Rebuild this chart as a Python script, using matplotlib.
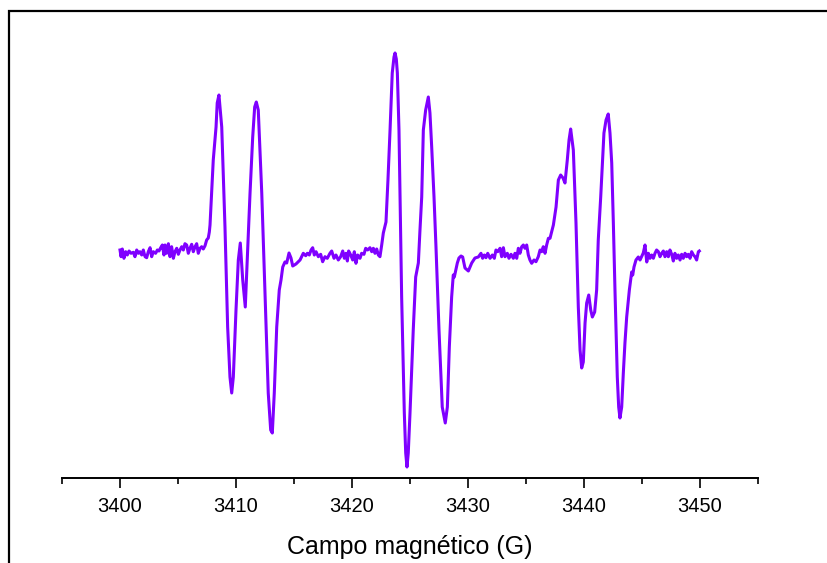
import matplotlib
matplotlib.use("Agg")
import matplotlib.pyplot as plt
import numpy as np
from matplotlib.patches import Rectangle
from matplotlib.ticker import MultipleLocator, FixedLocator

plt.rcParams['font.family'] = ['Liberation Sans', 'DejaVu Sans']

# EPR spectrum (field in G, intensity in a.u.)
noise1_x = [3400.00, 3400.09, 3400.20, 3400.34, 3400.49, 3400.63, 3400.78, 3400.95, 3401.15, 3401.29,
            3401.44, 3401.58, 3401.72, 3401.87, 3402.01, 3402.16, 3402.30, 3402.44, 3402.59, 3402.73,
            3402.87, 3403.07, 3403.22, 3403.36, 3403.51, 3403.65, 3403.79, 3403.88, 3404.02, 3404.17,
            3404.31, 3404.45, 3404.60, 3404.74, 3404.89, 3405.03, 3405.17, 3405.32, 3405.46, 3405.60,
            3405.75, 3405.89, 3406.03, 3406.18, 3406.32, 3406.47, 3406.61, 3406.75, 3406.90, 3407.04,
            3407.18, 3407.33, 3407.47]
noise1_y = [2, -4.7, 3, -6.3, 0.3, -3, 1, -1.3, -0.3, -4.7,
            2, -1.3, 0.3, -3, 2, -4.7, -5.7, 0.3, 4.3, -4.7,
            0.3, -1.3, 2, 1, 4.3, 7, -3, 7, -1.3, 8.3,
            -4.7, 5.3, -6.3, 0.3, 3.7, -2.3, 2, 5.3, 2, 8.3,
            7, -1.3, 3.7, 7.7, 0.3, 5.3, 8.3, -1.3, 3.7, 5.3,
            3, 6.3, 12]

group1_x = [3407.61, 3407.70, 3407.76, 3408.04, 3408.28, 3408.38, 3408.53, 3408.77, 3409.05, 3409.28,
            3409.48, 3409.63, 3409.77, 3410.00, 3410.20, 3410.37, 3410.58, 3410.80, 3410.97, 3411.21,
            3411.44, 3411.61, 3411.75, 3411.92, 3412.22, 3412.50, 3412.78, 3412.99, 3413.13, 3413.30,
            3413.51, 3413.73, 3413.88, 3414.03, 3414.22, 3414.37, 3414.57, 3414.74, 3414.89, 3415.17,
            3415.52]
group1_y = [14, 20, 27, 92, 125, 149, 157, 125, 25, -75,
            -125, -141, -125, -58, -8, 9, -28, -55, -8, 59,
            115, 145, 150, 142, 59, -41, -141, -178, -181, -141,
            -75, -38, -28, -15, -10, -11, -1, -6, -14, -12,
            -8]

noise2_x = [3415.66, 3415.80, 3416.01, 3416.15, 3416.32, 3416.47, 3416.61, 3416.75, 3416.90, 3417.10,
            3417.30, 3417.47, 3417.67, 3417.87, 3418.10, 3418.25, 3418.45, 3418.62, 3418.82, 3419.02,
            3419.20, 3419.34, 3419.48, 3419.60, 3419.71, 3419.89, 3420.06, 3420.20, 3420.34, 3420.49,
            3420.69, 3420.83, 3421.03, 3421.18, 3421.35, 3421.55, 3421.70, 3421.84, 3421.98, 3422.13,
            3422.27, 3422.41, 3422.56]
noise2_y = [-4.7, -1.3, -3.7, -1.3, -3, 2, 4.3, -3, 0.3, -4.7,
            -2.3, -9.7, -4.7, -6.3, -1.3, 1, -6.3, -3, -8, -4.7,
            1, -6.3, -1.3, -9, 1, -3, -8, 0.3, -11.3, -3,
            -6.3, -1.3, -2.3, 3.7, 2, 4.3, 0.3, 3.7, -1.3, 3,
            -3, -4.7, 7]

group2_x = [3422.70, 3422.93, 3423.10, 3423.28, 3423.47, 3423.62, 3423.71, 3423.82, 3423.91, 3424.05,
            3424.16, 3424.28, 3424.51, 3424.63, 3424.74, 3424.85, 3425.00, 3425.15, 3425.28, 3425.49,
            3425.72, 3425.86, 3426.01, 3426.15, 3426.35, 3426.58, 3426.72, 3426.87, 3427.07, 3427.24,
            3427.50, 3427.78, 3428.04, 3428.22, 3428.39, 3428.59, 3428.73, 3428.82, 3429.08, 3429.22,
            3429.40, 3429.54, 3429.74, 3430.03, 3430.32, 3430.60, 3430.89]
group2_y = [19, 30, 72, 122, 179, 195, 199, 193, 179, 122,
            39, -45, -161, -201, -215, -201, -161, -118, -78, -25,
            -11, 22, 55, 122, 142, 155, 139, 105, 55, 5,
            -78, -155, -171, -155, -95, -45, -23, -25, -11, -6,
            -4, -5, -16, -19, -11, -6, -5]

noise3_x = [3431.12, 3431.26, 3431.41, 3431.55, 3431.70, 3431.90, 3432.10, 3432.27, 3432.41, 3432.56,
            3432.76, 3432.90, 3433.05, 3433.19, 3433.39, 3433.53, 3433.71, 3433.91, 3434.05, 3434.20,
            3434.34, 3434.48, 3434.63, 3434.77, 3434.91, 3435.06, 3435.20, 3435.34, 3435.49, 3435.69,
            3435.86, 3436.06, 3436.21, 3436.35, 3436.49, 3436.64, 3436.78, 3436.93, 3437.07, 3437.21,
            3437.36]
noise3_y = [-1.3, -6.3, -3, -5.7, -1.3, -6.3, -3, -6.3, 2, 0.3,
            3.7, -4.7, 4.3, -4.7, -1.3, -6.3, -2.3, -6.3, -1.3, -6.3,
            3.7, -1.3, 5.3, 7, 3.7, 7, -3, -8, -11.3, -8,
            -9.7, -4.7, 2, 0.3, 5.3, -1.3, 7, 13.7, 13.7, 20.3,
            27]

group3_x = [3437.59, 3437.79, 3437.99, 3438.19, 3438.36, 3438.56, 3438.71, 3438.85, 3439.08, 3439.31,
            3439.51, 3439.66, 3439.80, 3439.94, 3440.09, 3440.23, 3440.41, 3440.58, 3440.72, 3440.92,
            3441.09, 3441.23, 3441.44, 3441.72, 3441.90, 3442.09, 3442.24, 3442.39, 3442.53, 3442.67,
            3442.87, 3442.99, 3443.10, 3443.25, 3443.39, 3443.53, 3443.68, 3443.82, 3443.91, 3444.11,
            3444.20, 3444.31, 3444.48, 3444.68, 3444.83, 3445.11, 3445.26, 3445.41]
group3_y = [45, 72, 77, 74, 69, 92, 112, 123, 102, 29,
            -55, -98, -116, -110, -71, -51, -43, -58, -65, -60,
            -38, 12, 55, 119, 132, 138, 119, 89, 29, -38,
            -125, -155, -166, -155, -121, -91, -65, -48, -38, -20,
            -23, -15, -8, -5, -8, -1, 7, -10]

noise4_x = [3445.55, 3445.69, 3445.83, 3445.98, 3446.12, 3446.26, 3446.41, 3446.55, 3446.70, 3446.84,
            3446.98, 3447.13, 3447.27, 3447.41, 3447.56, 3447.70, 3447.84, 3447.99, 3448.13, 3448.28,
            3448.42, 3448.56, 3448.71, 3448.85, 3448.99, 3449.14, 3449.28, 3449.43, 3449.57, 3449.71,
            3449.86, 3449.94]
noise4_y = [-1.3, -6.3, -3, -6.3, -1.3, 2, 0.3, -4.7, -1.3, 1,
            -4.7, 0.3, -4.7, 2, -2.3, -9, -1.3, -6.3, -3, -8,
            -2.3, -6.3, -1.3, -4.7, -2.3, -6.3, 0.3, -3, -4.7, -8,
            0.3, 1]

field = np.concatenate([noise1_x, group1_x, noise2_x, group2_x, noise3_x, group3_x, noise4_x])
signal = np.concatenate([noise1_y, group1_y, noise2_y, group2_y, noise3_y, group3_y, noise4_y])

fig = plt.figure(figsize=(8.28, 5.63), dpi=100)
ax = fig.add_axes([62/828, 85/563, 696/828, 456/563])

ax.plot(field, signal, color='#7F00FF', lw=2.2, solid_joinstyle='round')

ax.set_xlim(3395, 3455)
ax.set_ylim(-226, 230)

for s in ['left', 'top', 'right']:
    ax.spines[s].set_visible(False)
ax.spines['bottom'].set_linewidth(1.4)
ax.yaxis.set_visible(False)

ax.xaxis.set_major_locator(MultipleLocator(10))
ax.xaxis.set_minor_locator(FixedLocator([3395, 3405, 3415, 3425, 3435, 3445, 3455]))
ax.tick_params(axis='x', which='major', direction='out', length=7.5, width=1.2,
               labelsize=14.5, pad=6)
ax.tick_params(axis='x', which='minor', direction='out', length=4, width=1.2)

ax.set_xlabel('Campo magnético (G)', fontsize=18, labelpad=14)

# outer frame of the original figure (only its top and left edges are inside the crop)
fig.add_artist(Rectangle((9/828, -0.5), 2.0, (563 - 11)/563 + 0.5, transform=fig.transFigure,
                         fill=False, edgecolor='black', lw=1.6, clip_on=False))

fig.savefig('out.png', dpi=100)
